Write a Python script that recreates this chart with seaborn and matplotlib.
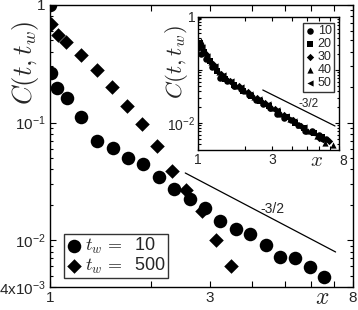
import numpy as np
import pandas as pd
import matplotlib
matplotlib.use("Agg")
import matplotlib.pyplot as plt
import seaborn as sns
from matplotlib.ticker import FixedLocator, FixedFormatter, NullFormatter, LogLocator

sns.set_style("ticks")
plt.rcParams['font.family'] = ['Liberation Sans', 'DejaVu Sans']
plt.rcParams['mathtext.fontset'] = 'cm'

# ---- main panel data ----
x_tw10 = [1.0, 1.007, 1.049, 1.124, 1.237, 1.38, 1.54, 1.71, 1.89, 2.11, 2.34, 2.61, 2.90,
          3.21, 3.58, 3.95, 4.40, 4.84, 5.37, 5.95, 6.56]
C_tw10 = [1.0, 0.264, 0.197, 0.162, 0.112, 0.0698, 0.0608, 0.050, 0.0445, 0.0345, 0.0272,
          0.0224, 0.0188, 0.0146, 0.0125, 0.0113, 0.0091, 0.0072, 0.0071, 0.0059, 0.0049]
x_tw500 = [1.007, 1.056, 1.116, 1.237, 1.38, 1.53, 1.70, 1.88, 2.09, 2.31, 2.54, 2.84, 3.13, 3.46]
C_tw500 = [0.69, 0.556, 0.485, 0.376, 0.28, 0.201, 0.138, 0.0973, 0.0632, 0.0388, 0.0267,
           0.0177, 0.01005, 0.0060]
main_labels = ["10", "500"]
line_main_x = [2.53, 7.1]
line_main_y = [0.0373, 0.00794]

# ---- inset data ----
ins_x10 = x_tw10
ins_C10 = C_tw10
ins_x20 = [1.03, 1.1, 1.2, 1.33, 1.5, 1.7, 1.95, 2.2, 2.5, 2.85, 3.25, 3.7, 4.2, 4.8, 5.5, 6.2]
ins_C20 = [0.33, 0.22, 0.15, 0.095, 0.068, 0.052, 0.041, 0.033, 0.026, 0.021, 0.0165, 0.0128,
           0.0102, 0.0082, 0.0066, 0.0054]
ins_x30 = [1.05, 1.13, 1.25, 1.4, 1.6, 1.82, 2.08, 2.38, 2.7, 3.1, 3.55, 4.05, 4.6, 5.3, 6.0, 6.9]
ins_C30 = [0.30, 0.2, 0.13, 0.085, 0.063, 0.049, 0.038, 0.030, 0.024, 0.0185, 0.0142, 0.0112,
           0.0088, 0.0068, 0.0052, 0.0045]
ins_x40 = [1.04, 1.12, 1.22, 1.36, 1.55, 1.76, 2.0, 2.3, 2.62, 3.0, 3.4, 3.9, 4.45, 5.1, 5.8, 6.5, 7.3]
ins_C40 = [0.35, 0.21, 0.14, 0.09, 0.066, 0.051, 0.040, 0.031, 0.025, 0.0195, 0.0150, 0.0118,
           0.0093, 0.0072, 0.0058, 0.0042, 0.0038]
ins_x50 = [1.06, 1.15, 1.28, 1.44, 1.63, 1.88, 2.15, 2.45, 2.8, 3.2, 3.65, 4.15, 4.75, 5.4, 6.1]
ins_C50 = [0.27, 0.18, 0.12, 0.08, 0.061, 0.047, 0.036, 0.029, 0.023, 0.0175, 0.0138, 0.0108,
           0.0085, 0.0066, 0.0048]
ins_labels = ["10", "20", "30", "40", "50"]
line_ins_x = [2.60, 7.54]
line_ins_y = [0.042, 0.0088]

fig = plt.figure(figsize=(3.58, 3.10), dpi=100)
ax = fig.add_axes([50/358, 1-287/310, (353-50)/358, (287-5)/310])

def style_axes(a, lw=1.0):
    a.set_xscale('log'); a.set_yscale('log')
    for s in a.spines.values():
        s.set_visible(True); s.set_linewidth(lw); s.set_color('black')
    a.tick_params(which='both', direction='in', top=True, right=True, color='black')
    a.tick_params(which='major', length=4, width=0.8)
    a.tick_params(which='minor', length=2.5, width=0.8)

style_axes(ax)
df_main = pd.concat([
    pd.DataFrame({'x': x_tw10, 'C': C_tw10, 'tw': main_labels[0]}),
    pd.DataFrame({'x': x_tw500, 'C': C_tw500, 'tw': main_labels[1]}),
])
sns.scatterplot(data=df_main[df_main.tw == "10"], x='x', y='C', marker='o', s=95,
                color='black', edgecolor='black', linewidth=0, ax=ax,
                label=r'$t_w\,=$  10')
sns.scatterplot(data=df_main[df_main.tw == "500"], x='x', y='C', marker='D', s=55,
                color='black', edgecolor='black', linewidth=0, ax=ax,
                label=r'$t_w\,=$  500')
ax.plot(line_main_x, line_main_y, color='black', lw=0.9)
ax.text(4.6, 0.0185, '-3/2', fontsize=10, ha='center', va='center')
ax.set_xlim(1, 8)
ax.set_ylim(4e-3, 1)
ax.xaxis.set_major_locator(FixedLocator([1, 2, 3, 4, 5, 6, 7, 8]))
ax.xaxis.set_major_formatter(FixedFormatter(['1', '', '3', '', '', '', '', '8']))
ax.xaxis.set_minor_locator(FixedLocator([]))
ax.yaxis.set_major_locator(FixedLocator([4e-3, 1e-2, 1e-1, 1]))
ax.yaxis.set_major_formatter(FixedFormatter([r'4x$\mathregular{10^{-3}}$', r'$\mathregular{10^{-2}}$',
                                             r'$\mathregular{10^{-1}}$', '1']))
ax.yaxis.set_minor_locator(LogLocator(base=10, subs=np.arange(2, 10)))
ax.yaxis.set_minor_formatter(NullFormatter())
ax.tick_params(labelsize=11, pad=3)
ax.set_xlabel(''); ax.set_ylabel('')
ax.text(-0.0825, 0.794, r'$C(t,t_w)$', transform=ax.transAxes, rotation=90, fontsize=19,
        ha='center', va='center')
ax.text(0.898, -0.038, r'$x$', transform=ax.transAxes, fontsize=17, ha='center', va='center')
leg = ax.legend(loc='lower left', bbox_to_anchor=(0.045, 0.032), fontsize=13, frameon=True,
                fancybox=False, edgecolor='black', handletextpad=0.1, borderpad=0.1,
                labelspacing=0.0, handlelength=1.0, borderaxespad=0)
leg.get_frame().set_linewidth(1.0)

# ---- inset ----
ax2 = fig.add_axes([198/358, 1-150/310, (339-198)/358, (150-17)/310])
style_axes(ax2)
ax2.tick_params(which='major', length=3)
ax2.tick_params(which='minor', length=1.8)
ins_markers = ['o', 's', 'D', '^', '<']
ins_sizes = [22, 16, 14, 20, 20]
ins_xs = [ins_x10, ins_x20, ins_x30, ins_x40, ins_x50]
ins_Cs = [ins_C10, ins_C20, ins_C30, ins_C40, ins_C50]
for lab, mk, sz, xs, cs in zip(ins_labels, ins_markers, ins_sizes, ins_xs, ins_Cs):
    d = pd.DataFrame({'x': xs, 'C': cs})
    sns.scatterplot(data=d, x='x', y='C', marker=mk, s=sz, color='black', edgecolor='black',
                    linewidth=0, ax=ax2, label=lab)
ax2.plot(line_ins_x, line_ins_y, color='black', lw=0.9)
ax2.text(5.1, 0.023, '-3/2', fontsize=8.5, ha='center', va='center')
ax2.set_xlim(1, 8)
ax2.set_ylim(3.1e-3, 1)
ax2.xaxis.set_major_locator(FixedLocator([1, 2, 3, 4, 5, 6, 7, 8]))
ax2.xaxis.set_major_formatter(FixedFormatter(['1', '', '3', '', '', '', '', '']))
ax2.xaxis.set_minor_locator(FixedLocator([]))
ax2.yaxis.set_major_locator(FixedLocator([1e-2, 1e-1, 1]))
ax2.yaxis.set_major_formatter(FixedFormatter([r'$\mathregular{10^{-2}}$', '', '1']))
ax2.yaxis.set_minor_locator(LogLocator(base=10, subs=np.arange(2, 10)))
ax2.yaxis.set_minor_formatter(NullFormatter())
ax2.tick_params(labelsize=10, pad=2)
ax2.set_xlabel(''); ax2.set_ylabel('')
ax2.text(-0.156, 0.66, r'$C(t,t_w)$', transform=ax2.transAxes, rotation=90, fontsize=16.5,
         ha='center', va='center')
ax2.text(0.84, -0.08, r'$x$', transform=ax2.transAxes, fontsize=15, ha='center', va='center')
ax2.text(1.03, -0.08, '8', transform=ax2.transAxes, fontsize=10, ha='center', va='center')
leg2 = ax2.legend(loc='upper right', bbox_to_anchor=(0.965, 0.955), fontsize=9, frameon=True,
                  fancybox=False, edgecolor='black', handletextpad=0.2, borderpad=0.2,
                  labelspacing=0.08, handlelength=0.8, borderaxespad=0)
leg2.get_frame().set_linewidth(1.0)

fig.savefig('out.png', dpi=100)
